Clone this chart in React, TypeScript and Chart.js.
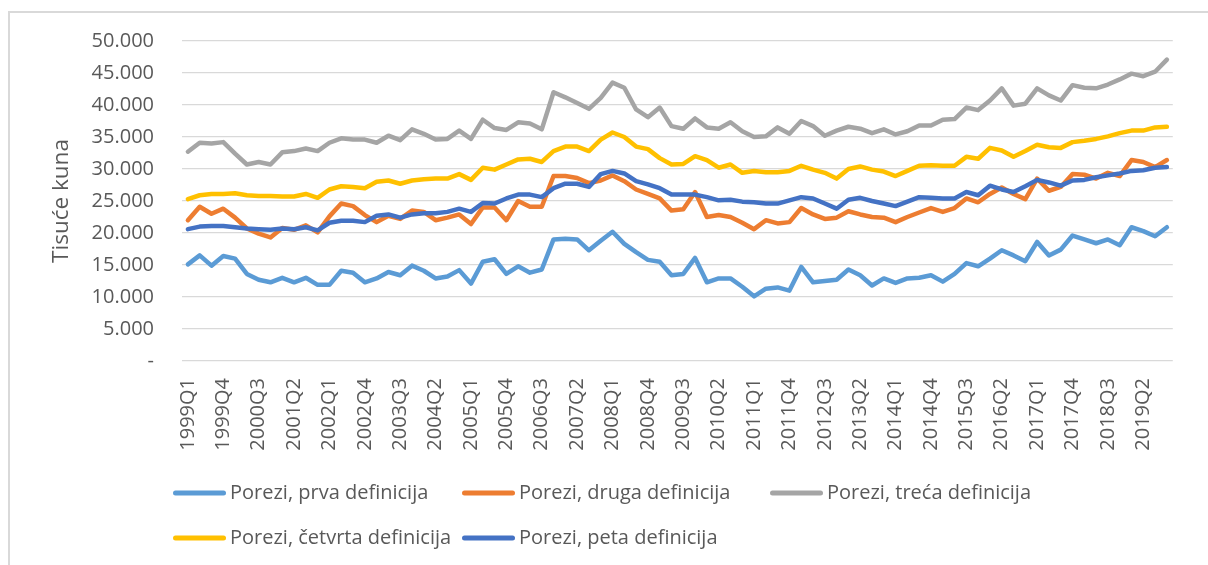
import React, { useEffect, useRef } from 'react';
import { Chart, registerables } from 'chart.js';

Chart.register(...registerables);

// Categories: quarters 1999Q1 .. 2019Q4
const years: number[] = [];
for (let y = 1999; y <= 2019; y++) years.push(y);
const quarters: string[] = [];
years.forEach((y) => {
  for (let q = 1; q <= 4; q++) quarters.push(`${y}Q${q}`);
});

// Series values (thousand kuna)
const prva = [
  15100, 16500, 14900, 16400, 16000, 13600, 12700, 12300, 13000, 12300,
  13000, 11900, 11900, 14100, 13800, 12300, 12900, 13900, 13400, 14900,
  14100, 12900, 13200, 14200, 12100, 15500, 15900, 13600, 14800, 13800,
  14300, 19000, 19100, 19000, 17300, 18800, 20200, 18300, 17000, 15800,
  15500, 13400, 13600, 16100, 12300, 12900, 12900, 11600, 10100, 11300,
  11500, 11000, 14700, 12300, 12500, 12700, 14300, 13400, 11800, 12900,
  12200, 12900, 13000, 13400, 12400, 13600, 15300, 14800, 16000, 17300,
  16500, 15600, 18600, 16500, 17400, 19600, 19000, 18400, 19000, 18100,
  20900, 20300, 19500, 20900,
];

const druga = [
  22000, 24100, 23000, 23800, 22400, 20700, 19900, 19300, 20800, 20500,
  21200, 20100, 22600, 24600, 24200, 22800, 21700, 22700, 22200, 23500,
  23300, 22000, 22400, 22900, 21400, 24000, 24000, 22000, 25000, 24100,
  24100, 28900, 28900, 28600, 27800, 28200, 29000, 28100, 26800, 26100,
  25400, 23500, 23700, 26400, 22500, 22800, 22500, 21600, 20600, 22000,
  21500, 21700, 23900, 22900, 22200, 22400, 23400, 22900, 22500, 22400,
  21700, 22500, 23200, 23900, 23300, 23900, 25400, 24800, 26100, 27100,
  26100, 25300, 28500, 26600, 27200, 29200, 29100, 28500, 29400, 28900,
  31400, 31100, 30300, 31400,
];

const treca = [
  32700, 34100, 34000, 34200, 32400, 30700, 31100, 30700, 32600, 32800,
  33200, 32800, 34100, 34800, 34600, 34600, 34100, 35200, 34500, 36200,
  35500, 34600, 34700, 36000, 34700, 37700, 36400, 36100, 37300, 37100,
  36200, 42000, 41200, 40300, 39400, 41100, 43500, 42700, 39300, 38100,
  39600, 36700, 36300, 37900, 36500, 36300, 37300, 35900, 35000, 35100,
  36500, 35500, 37500, 36700, 35200, 36000, 36600, 36300, 35600, 36200,
  35400, 35900, 36800, 36800, 37700, 37800, 39600, 39200, 40700, 42600,
  39900, 40200, 42600, 41500, 40700, 43100, 42700, 42600, 43200, 44000,
  44900, 44500, 45200, 47100,
];

const cetvrta = [
  25300, 25900, 26100, 26100, 26200, 25900, 25800, 25800, 25700, 25700,
  26100, 25500, 26800, 27300, 27200, 27000, 28000, 28200, 27700, 28200,
  28400, 28500, 28500, 29200, 28300, 30200, 29900, 30700, 31500, 31600,
  31100, 32800, 33500, 33500, 32800, 34600, 35700, 35000, 33500, 33100,
  31700, 30700, 30800, 32000, 31400, 30200, 30700, 29400, 29700, 29500,
  29500, 29700, 30500, 29900, 29400, 28500, 30000, 30400, 29900, 29600,
  28900, 29700, 30500, 30600, 30500, 30500, 31900, 31600, 33300, 32900,
  31900, 32800, 33800, 33400, 33300, 34200, 34400, 34700, 35100, 35600,
  36000, 36000, 36500, 36600,
];

const peta = [
  20600, 21000, 21100, 21100, 20900, 20700, 20600, 20500, 20700, 20600,
  20900, 20400, 21600, 21900, 21900, 21700, 22700, 22900, 22400, 22900,
  23100, 23100, 23300, 23800, 23300, 24700, 24600, 25400, 26000, 26000,
  25600, 27000, 27700, 27700, 27200, 29200, 29700, 29300, 28100, 27600,
  27000, 26000, 26000, 26000, 25600, 25100, 25200, 24900, 24800, 24600,
  24600, 25100, 25600, 25400, 24600, 23800, 25200, 25500, 25000, 24600,
  24200, 24900, 25600, 25500, 25400, 25400, 26400, 25900, 27400, 26800,
  26400, 27300, 28300, 27900, 27400, 28200, 28300, 28700, 29000, 29300,
  29700, 29800, 30200, 30300,
];

const seriesNames = [
  'Porezi, prva definicija',
  'Porezi, druga definicija',
  'Porezi, treća definicija',
  'Porezi, četvrta definicija',
  'Porezi, peta definicija',
];
const seriesColors = ['#5B9BD5', '#ED7D31', '#A5A5A5', '#FFC000', '#4472C4'];
const seriesData = [prva, druga, treca, cetvrta, peta];

const yAxisTitle = 'Tisuće kuna';
const yMin = 0;
const yMax = 50000;
const yStep = 5000;

const FONT = '"Open Sans", "Noto Sans", sans-serif';
const TEXT_COLOR = '#595959';
const GRID_COLOR = '#d9d9d9';

const LEGEND_COL_X = [173, 462, 770];
const LEGEND_ROW_Y = [493, 538];

function formatThousands(v: number): string {
  if (v === 0) return '-';
  return Math.round(v)
    .toString()
    .replace(/\B(?=(\d{3})+(?!\d))/g, '.');
}

const framePlugin = {
  id: 'frame',
  beforeDraw(chart: any) {
    const { ctx, width, height } = chart;
    ctx.save();
    ctx.fillStyle = '#ffffff';
    ctx.fillRect(0, 0, width, height);
    ctx.fillStyle = GRID_COLOR;
    ctx.fillRect(8, 11, width - 8, 2);
    ctx.fillRect(8, 11, 2, height - 11);
    ctx.restore();
  },
};

const gridLegendPlugin = {
  id: 'gridLegend',
  afterDraw(chart: any) {
    const ctx = chart.ctx;
    ctx.save();
    ctx.font = `20px ${FONT}`;
    ctx.textBaseline = 'middle';
    ctx.textAlign = 'left';
    seriesNames.forEach((name, k) => {
      const col = k % 3;
      const row = Math.floor(k / 3);
      const x = LEGEND_COL_X[col];
      const y = LEGEND_ROW_Y[row];
      ctx.strokeStyle = seriesColors[k];
      ctx.lineWidth = 5;
      ctx.lineCap = 'round';
      ctx.beginPath();
      ctx.moveTo(x + 2.5, y);
      ctx.lineTo(x + 50.5, y);
      ctx.stroke();
      ctx.fillStyle = TEXT_COLOR;
      ctx.fillText(name, x + 57, y);
    });
    ctx.restore();
  },
};

export default function App() {
  const canvasRef = useRef<HTMLCanvasElement | null>(null);

  useEffect(() => {
    if (!canvasRef.current) return;
    const drawOrder = [4, 3, 2, 1, 0];
    const chart = new Chart(canvasRef.current, {
      type: 'line',
      data: {
        labels: quarters,
        datasets: seriesData.map((d, k) => ({
          label: seriesNames[k],
          data: d,
          borderColor: seriesColors[k],
          backgroundColor: seriesColors[k],
          borderWidth: 4.5,
          pointRadius: 0,
          pointHoverRadius: 0,
          tension: 0,
          fill: false,
          borderJoinStyle: 'round' as const,
          borderCapStyle: 'round' as const,
          order: drawOrder[k],
        })),
      },
      options: {
        responsive: false,
        animation: false,
        devicePixelRatio: 1,
        layout: { padding: { left: 10, right: 18, top: 41, bottom: 100 } },
        plugins: {
          legend: { display: false },
          tooltip: { enabled: false },
        },
        scales: {
          x: {
            type: 'category',
            offset: true,
            grid: { display: false, drawTicks: false },
            border: { display: false },
            ticks: {
              autoSkip: false,
              maxRotation: 90,
              minRotation: 90,
              padding: 17,
              color: TEXT_COLOR,
              font: { family: FONT, size: 20 },
              callback: (_v: any, idx: number) => (idx % 3 === 0 ? quarters[idx] : ''),
            },
            afterFit: (scale: any) => {
              scale.height = 104;
            },
          },
          y: {
            min: yMin,
            max: yMax,
            grid: { color: GRID_COLOR, lineWidth: 1.3, drawTicks: false },
            border: { display: false },
            ticks: {
              stepSize: yStep,
              padding: 28,
              color: TEXT_COLOR,
              font: { family: FONT, size: 20 },
              callback: (v: any) => formatThousands(Number(v)),
            },
            title: {
              display: true,
              text: yAxisTitle,
              color: TEXT_COLOR,
              font: { family: FONT, size: 22.5 },
              padding: { top: 38, bottom: 0 },
            },
            afterFit: (scale: any) => {
              scale.width = 172;
            },
          },
        },
      },
      plugins: [framePlugin, gridLegendPlugin],
    });
    return () => chart.destroy();
  }, []);

  return (
    <div style={{ position: 'fixed', left: 0, top: 0, width: 1208, height: 565, background: '#fff' }}>
      <canvas ref={canvasRef} width={1208} height={565} style={{ display: 'block', width: 1208, height: 565 }} />
    </div>
  );
}
